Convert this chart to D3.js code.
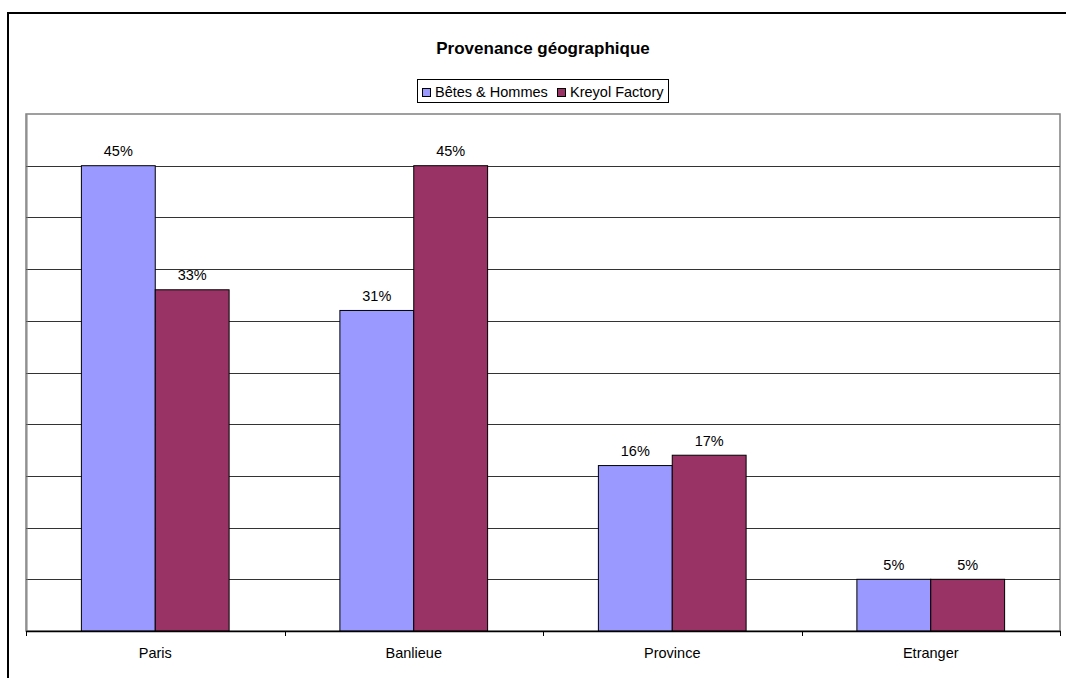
<!DOCTYPE html>
<html><head><meta charset="utf-8">
<script src="https://cdn.jsdelivr.net/npm/d3@7"></script>
<style>body{margin:0;background:#fff;}svg{display:block;font-family:"Liberation Sans",Arial,sans-serif;}</style>
</head><body>
<svg id="c" width="1066" height="678"></svg>
<script>
const categories = ["Paris", "Banlieue", "Province", "Etranger"];
const seriesNames = ["Bêtes & Hommes", "Kreyol Factory"];
const betesHommes = [45, 31, 16, 5];
const kreyolFactory = [33, 45, 17, 5];
const seriesColors = ["#9999FF", "#993366"];
const yTicks = [0, 5, 10, 15, 20, 25, 30, 35, 40, 45, 50];
const titleText = "Provenance géographique";

const svg = d3.select("#c");
// outer frame
svg.append("rect").attr("x", 8).attr("y", 13).attr("width", 1070).attr("height", 680)
  .attr("fill", "none").attr("stroke", "#000").attr("stroke-width", 2);

const L = 26, R = 1060, T = 114, B = 631;
const x = d3.scaleBand().domain(categories).range([L, R]).paddingInner(0).paddingOuter(0);
const y = d3.scaleLinear().domain([0, 50]).range([B, T]);
const inner = d3.scaleBand().domain([0, 1]).range([0, x.bandwidth()]).paddingInner(0).paddingOuter(0.75);

// plot border
svg.append("rect").attr("x", L).attr("y", T).attr("width", R - L).attr("height", B - T)
  .attr("fill", "#fff").attr("stroke", "#808080").attr("stroke-width", 1.5);

// gridlines
svg.append("g").selectAll("line").data(yTicks.filter(t => t > 0 && t < 50)).join("line")
  .attr("x1", L).attr("x2", R).attr("y1", d => Math.round(y(d)) + 0.5).attr("y2", d => Math.round(y(d)) + 0.5)
  .attr("stroke", "#333").attr("stroke-width", 1);

// left axis (no labels)
const yAxis = svg.append("g").attr("transform", `translate(${L + 0.5},0)`)
  .call(d3.axisLeft(y).tickValues(yTicks).tickSize(0).tickFormat(""));
yAxis.select(".domain").attr("stroke", "#808080");

// bars
const data = categories.map((c, i) => [betesHommes[i], kreyolFactory[i]]);
const groups = svg.append("g").selectAll("g").data(categories).join("g")
  .attr("transform", d => `translate(${x(d)},0)`);
groups.selectAll("rect").data((d, i) => data[i].map((v, s) => ({v, s}))).join("rect")
  .attr("x", d => inner(d.s)).attr("width", inner.bandwidth())
  .attr("y", d => y(d.v)).attr("height", d => B - y(d.v))
  .attr("fill", d => seriesColors[d.s]).attr("stroke", "#000").attr("stroke-width", 1);
groups.selectAll("text").data((d, i) => data[i].map((v, s) => ({v, s}))).join("text")
  .attr("x", d => inner(d.s) + inner.bandwidth() / 2).attr("y", d => y(d.v) - 9.5)
  .attr("text-anchor", "middle").attr("font-size", 14.5).attr("fill", "#000")
  .text(d => d.v + "%");

// x axis
const xAxis = svg.append("g").attr("transform", `translate(0,${B + 0.5})`)
  .call(d3.axisBottom(x).tickSize(0).tickPadding(0));
xAxis.select(".domain").remove();
xAxis.selectAll("text").attr("dy", null).attr("y", 26.5).attr("font-size", 14.5).attr("fill", "#000")
  .attr("font-family", "Liberation Sans, Arial, sans-serif");
svg.append("line").attr("x1", L).attr("x2", R + 1).attr("y1", B + 0.5).attr("y2", B + 0.5).attr("stroke", "#000").attr("stroke-width", 1.5);
const bounds = categories.map(c => x(c)).concat([R]);
svg.append("g").selectAll("line").data(bounds).join("line")
  .attr("x1", d => Math.round(d) + 0.5).attr("x2", d => Math.round(d) + 0.5)
  .attr("y1", B).attr("y2", B + 5).attr("stroke", "#000");

// title
svg.append("text").attr("x", 543).attr("y", 54).attr("text-anchor", "middle")
  .attr("font-size", 17).attr("font-weight", "bold").text(titleText);

// legend
const lg = svg.append("g");
lg.append("rect").attr("x", 417.5).attr("y", 79.5).attr("width", 251).attr("height", 23)
  .attr("fill", "#fff").attr("stroke", "#000");
const legX = [422, 557];
seriesNames.forEach((n, i) => {
  lg.append("rect").attr("x", legX[i] + 0.5).attr("y", 88.5).attr("width", 8).attr("height", 8)
    .attr("fill", seriesColors[i]).attr("stroke", "#000");
  lg.append("text").attr("x", legX[i] + 13).attr("y", 97).attr("font-size", 14.5).text(n);
});
</script>
</body></html>
